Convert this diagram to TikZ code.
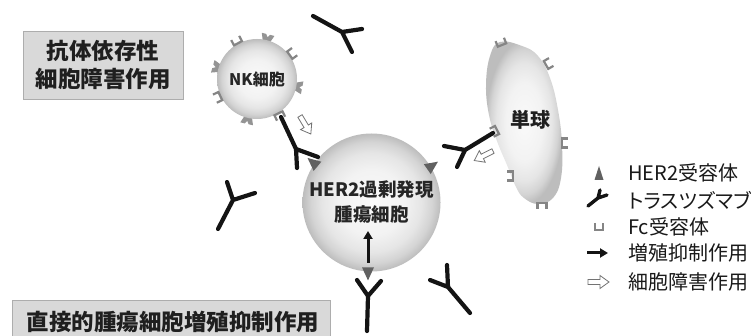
\documentclass[tikz,border=0pt]{standalone}
\usepackage{fontspec}
\newfontfamily\jp{Noto Sans CJK JP}
\usetikzlibrary{calc,arrows.meta}

% sphere-like shading for the cells: light centre, grey rim
\pgfdeclareradialshading{cellshade}{\pgfpoint{0bp}{0bp}}{%
  color(0bp)=(black!2); color(12bp)=(black!5); color(18bp)=(black!10);
  color(22bp)=(black!17); color(25bp)=(black!26); color(50bp)=(black!26)}

\tikzset{
  titlebox/.style={fill=black!15, draw=black!32, line width=0.8pt, inner sep=0pt},
  boxtxt/.style={inner sep=0pt, text=black!88, font=\jp\bfseries\fontsize{22.5}{28}\selectfont},
  cellball/.style={circle, inner sep=0pt, shade, shading=cellshade, text=black!85},
  legtxt/.style={inner sep=0pt, anchor=west, text=black!90, font=\jp\fontsize{20}{22}\selectfont},
  ab/.style={line width=4.2pt, line cap=round, line join=round, black!92},
  fcline/.style={draw=black!48, line width=2.2pt},
  blkarrow/.style={line width=3pt, black!92, -{Triangle[length=8pt,width=9pt]}},
  pics/fcrec/.style={code={\draw[fcline] (6,-4.5) -- (0,-4.5) -- (0,4.5) -- (6,4.5);}},
  pics/nkrec/.style={code={\fill[black!42] (-1,-3.5) -- (7,-6.5) -- (7,-2) -- (4,0) -- (7,2) -- (7,6.5) -- (-1,3.5) -- cycle;}},
  pics/her2rec/.style={code={\fill[black!62] (-2,-6) -- (11,0) -- (-2,6) -- cycle;}},
  pics/openarrow/.style={code={\draw[black!55, fill=white, line width=0.8pt, line join=miter]
      (0,-2.5) -- (12,-2.5) -- (12,-6.5) -- (21,0) -- (12,6.5) -- (12,2.5) -- (0,2.5) -- cycle;}},
}

\begin{document}
\begin{tikzpicture}[x=1pt,y=1pt]
\useasboundingbox (0,0) rectangle (751,-336);
\fill[white] (0,0) rectangle (751,-336);

% title boxes
\node[titlebox, boxtxt, minimum width=160pt, minimum height=68pt, align=center] (adcc) at (103,-65)
  {抗体依存性\\細胞障害作用};
\node[titlebox, minimum width=318pt, minimum height=40pt, anchor=north west] (dirbox) at (12,-300) {};
\node[boxtxt] (dirtxt) at (173,-322) {直接的腫瘍細胞増殖抑制作用};

% NK cell
\foreach \a in {76,164,-11,257}
  \pic[rotate=\a] at ($(257,-79)+(\a:39)$) {nkrec};
\node[cellball, minimum size=80pt, font=\jp\bfseries\fontsize{16}{18}\selectfont] (nk) at (257,-79) {NK細胞};
\foreach \a in {118,36,205}
  \pic[rotate=\a] at ($(nk.center)+(\a:40.5)$) {fcrec};
\pic[rotate=-64] at ($(nk.center)+(-58:40.5)$) {fcrec};

% monocyte
\shade[shading=cellshade]
  plot[smooth cycle, tension=0.7] coordinates {
    (500,-42) (522,-46) (538,-56) (550,-78) (558,-110) (562,-145) (561,-178)
    (553,-198) (538,-204) (524,-198) (516,-187) (507,-165) (497,-141)
    (489,-115) (486,-85) (490,-56)};
\node[inner sep=0pt, text=black!88, font=\jp\bfseries\fontsize{20}{22}\selectfont] (mono) at (530,-120) {単球};
\pic[rotate=112] at (502,-45) {fcrec};
\pic[rotate=30] at (546,-65) {fcrec};
\pic[rotate=0] at (562,-143) {fcrec};
\pic[rotate=180] at (513,-176) {fcrec};
\pic[rotate=270] at (542,-203) {fcrec};
\pic[rotate=207] at (497,-130) {fcrec};

% HER2 overexpressing tumour cell
\node[cellball, minimum size=138pt, align=center, font=\jp\bfseries\fontsize{18.5}{25}\selectfont] (tumor) at (371.5,-202.5)
  {HER2過剰発現\\腫瘍細胞};
\pic[rotate=140] at ($(tumor.center)+(146:67)$) {her2rec};
\pic[rotate=35] at ($(tumor.center)+(31:67)$) {her2rec};
\pic[rotate=-90] at ($(tumor.center)+(267:67)$) {her2rec};
\coordinate (upS) at (368,-263);
\coordinate (upE) at (368,-231);
\draw[blkarrow] (upS) -- (upE);

% antibodies (stem, junction, two arms)
\draw[ab] (313,-16) -- (342,-32) -- (362,-29) (342,-32) -- (352,-52);
\draw[ab] (218,-229) -- (233,-200) -- (227,-182) (233,-200) -- (255,-193);
\draw[ab] (367,-331) -- (368,-296) -- (357,-280) (368,-296) -- (381,-281);
\draw[ab] (470,-313) -- (448,-287) -- (447,-265) (448,-287) -- (430,-280);
\draw[ab] (281,-117) -- (296,-149) -- (318,-157) (296,-149) -- (297,-168);
\draw[ab] (493,-133) -- (465,-150) -- (444,-146) (465,-150) -- (457,-167);

% cytotoxic action arrows
\pic[rotate=-59] at (300,-116) {openarrow};
\pic[rotate=207] at (493,-151) {openarrow};

% legend
\fill[black!62] (594.5,-180) -- (599,-166) -- (603.5,-180) -- cycle;
\node[legtxt] (lg1) at (628,-173) {HER2受容体};
\draw[ab, line width=3.4pt] (588,-206) -- (598,-198) -- (607,-195) (598,-198) -- (600,-190);
\node[legtxt] (lg2) at (628,-200) {\addfontfeature{RawFeature=+palt}トラスツズマブ};
\draw[fcline, line width=1.8pt] (595,-223) -- (595,-230) -- (603,-230) -- (603,-223);
\node[legtxt] (lg3) at (628,-227) {Fc受容体};
\coordinate (lgaS) at (587,-253);
\coordinate (lgaE) at (608,-253);
\draw[blkarrow] (lgaS) -- (lgaE);
\node[legtxt] (lg4) at (628,-253) {増殖抑制作用};
\pic at (588,-282) {openarrow};
\node[legtxt] (lg5) at (628,-282) {細胞障害作用};
\end{tikzpicture}
\end{document}
